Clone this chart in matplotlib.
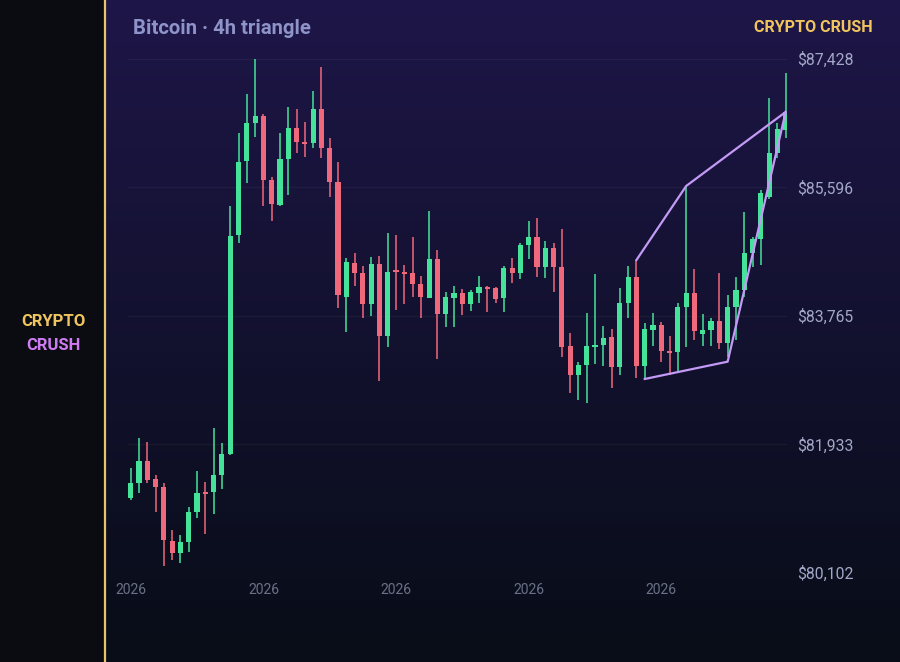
import numpy as np
import matplotlib
matplotlib.use('Agg')
import matplotlib.pyplot as plt
from matplotlib.lines import Line2D

plt.rcParams['font.family'] = ['Roboto', 'DejaVu Sans']

# 4h candles (open, high, low, close)
opens = [81164, 81378, 81691, 81435, 81321, 80551, 80380, 80537, 80964, 81249,
	81249, 81492, 81791, 84912, 85967, 86509, 86608, 85696, 85340, 85996,
	86437, 86238, 86224, 86708, 86152, 85668, 84029, 84513, 84371, 83929,
	84499, 83473, 84414, 84385, 84371, 84214, 84014, 84570, 83786, 84014,
	84086, 83929, 84086, 84171, 84157, 84014, 84442, 84371, 84770, 84884,
	84456, 84727, 84456, 83330, 82917, 83060, 83316, 83345, 83459, 83031,
	83943, 84314, 83045, 83558, 83630, 83259, 83245, 83886, 84086, 83501,
	83558, 83687, 83373, 83886, 84128, 84656, 84855, 85454, 86081, 86409]
highs = [81592, 82019, 81962, 81492, 81378, 80708, 80636, 81036, 81549, 81392,
	82162, 81948, 85326, 86366, 86922, 87428, 86637, 85739, 86366, 86737,
	86708, 86523, 86965, 87307, 86295, 85953, 84584, 84656, 84470, 84599,
	84613, 84941, 84912, 84485, 84884, 84328, 85254, 84698, 84100, 84185,
	84143, 84128, 84328, 84185, 84171, 84470, 84584, 84798, 85112, 85155,
	84827, 84798, 84998, 83516, 83102, 83801, 84357, 83615, 83573, 84157,
	84470, 84556, 83658, 83801, 83672, 83473, 83943, 85611, 84428, 83786,
	83729, 84371, 84057, 84314, 85240, 84884, 85554, 86865, 86509, 87221]
lows = [81135, 81235, 81378, 80964, 80195, 80280, 80237, 80394, 80879, 80651,
	80936, 81292, 81777, 84798, 85654, 86309, 85326, 85112, 85326, 85483,
	86081, 86024, 86152, 86010, 85454, 83872, 83530, 84185, 83729, 83758,
	82831, 83316, 83843, 83929, 84029, 83729, 84014, 83145, 83601, 83601,
	83772, 83829, 83943, 83815, 83943, 83815, 84228, 84285, 84570, 84314,
	84299, 84100, 83173, 82660, 82561, 82518, 83074, 83045, 82732, 82917,
	83729, 82874, 82860, 83330, 83102, 82917, 82945, 83316, 83416, 83330,
	83330, 83288, 83173, 83416, 84029, 84456, 84485, 85425, 86010, 86295]
closes = [81378, 81691, 81420, 81321, 80565, 80380, 80537, 80964, 81235, 81221,
	81492, 81791, 84898, 85953, 86509, 86608, 85696, 85354, 85996, 86437,
	86238, 86209, 86708, 86152, 85668, 84057, 84527, 84371, 83929, 84499,
	83473, 84385, 84385, 84357, 84214, 84029, 84570, 83786, 84029, 84086,
	83929, 84100, 84171, 84143, 84000, 84442, 84371, 84770, 84884, 84456,
	84727, 84456, 83316, 82917, 83060, 83330, 83345, 83444, 83031, 83943,
	84314, 83045, 83573, 83630, 83259, 83230, 83886, 84086, 83544, 83558,
	83687, 83373, 83886, 84128, 84656, 84855, 85511, 86081, 86423, 86666]

# triangle trend lines (candle index, price)
upper_idx = [61, 67, 79]
upper_px = [84556, 85611, 86666]
lower_idx = [62, 72, 79]
lower_px = [82860, 83107, 86666]

y_ticks = [80102, 81933, 83765, 85596, 87428]
y_labels = ['$' + format(v, ',') for v in y_ticks]
x_ticks = [0, 16, 32, 48, 64]
x_labels = ['2026', '2026', '2026', '2026', '2026']

GREEN = '#45e39a'
RED = '#f0687c'
GOLD = '#f0c55e'
PURPLE = '#cf7cf2'
TRI = '#c39af5'

W, H = 900, 662
fig = plt.figure(figsize=(9, 6.62), dpi=100)
fig.patch.set_facecolor('#0b0c12')

# gradient background of the chart panel
bg = fig.add_axes([106 / W, 0, 1 - 106 / W, 1])
top = np.array([30, 22, 72]) / 255.0
bot = np.array([8, 13, 23]) / 255.0
t = np.linspace(0, 1, 256)[:, None]
grad = top * (1 - t) + bot * t
bg.imshow(grad[:, None, :], aspect='auto', extent=[0, 1, 0, 1])
bg.axis('off')

# gold divider between side panel and chart
fig.add_artist(Line2D([105 / W, 105 / W], [0, 1], color='#e6c46a', lw=1.6))

ax = fig.add_axes([128 / W, (H - 572.5) / H, 659 / W, 514 / H])
ax.set_facecolor('none')
ax.set_xlim(-0.33, 79.16)
ax.set_ylim(y_ticks[0], y_ticks[-1])
for s in ax.spines.values():
	s.set_visible(False)

for y in y_ticks:
	ax.axhline(y, color='#ffffff', alpha=0.045, lw=1, zorder=0)

x = np.arange(len(opens))
o = np.array(opens)
c = np.array(closes)
cols = [GREEN if c[i] >= o[i] else RED for i in range(len(o))]
ax.vlines(x, lows, highs, colors=cols, lw=1.1, zorder=2, clip_on=False)
body = np.maximum(np.abs(c - o), 22)
ax.bar(x, body, bottom=np.minimum(o, c), width=0.62, color=cols, zorder=3)

ax.plot(upper_idx, upper_px, color=TRI, lw=1.6, zorder=4, solid_joinstyle='round')
ax.plot(lower_idx, lower_px, color=TRI, lw=1.6, zorder=4, solid_joinstyle='round')

ax.yaxis.tick_right()
ax.set_yticks(y_ticks)
ax.set_yticklabels(y_labels)
ax.set_xticks(x_ticks)
ax.set_xticklabels(x_labels)
ax.tick_params(axis='y', length=0, pad=7, labelsize=11.3, labelcolor='#a3a8c8')
ax.tick_params(axis='x', length=0, pad=7.5, labelsize=10, labelcolor='#6b7186')

fig.text(133 / W, 1 - 28 / H, 'Bitcoin · 4h triangle', ha='left', va='center',
	fontsize=14.6, fontweight='bold', color='#8e93c9')
fig.text(873 / W, 1 - 28 / H, 'CRYPTO CRUSH', ha='right', va='center',
	fontsize=11.6, fontweight='bold', color=GOLD)
fig.text(53 / W, 1 - 321 / H, 'CRYPTO', ha='center', va='center',
	fontsize=12, fontweight='bold', color=GOLD)
fig.text(53 / W, 1 - 346 / H, 'CRUSH', ha='center', va='center',
	fontsize=12, fontweight='bold', color=PURPLE)

fig.savefig('out.png', dpi=100, facecolor=fig.get_facecolor())
